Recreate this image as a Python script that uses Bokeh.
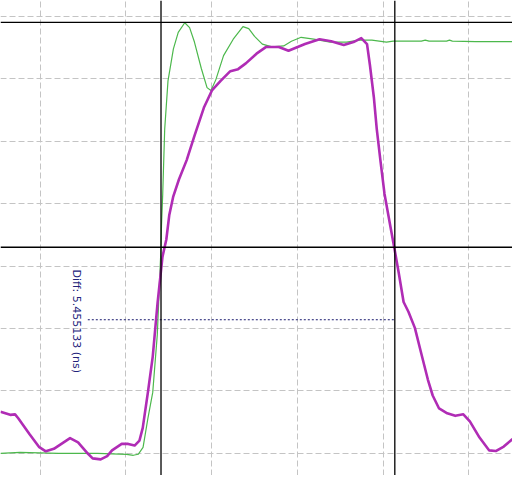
from bokeh.plotting import figure
from bokeh.models import Span, FixedTicker
from bokeh.core.properties import value
from bokeh.embed import file_html
from bokeh.resources import INLINE
import math

# time in ns, voltage in V
green_t = [-0.928, -0.475, 0.430, 1.335, 2.014, 2.172, 2.285, 2.398, 2.511, 2.624, 2.731,
           2.817, 2.828, 2.857, 2.903, 2.980, 3.106, 3.219, 3.371, 3.484, 3.597, 3.756,
           3.891, 3.982, 4.095, 4.276, 4.502, 4.729, 4.864, 5.000, 5.181, 5.407, 5.679, 5.860,
           6.086, 6.380, 6.765, 7.149, 7.443, 7.738, 8.077, 8.235, 8.575, 8.891, 8.982, 9.072,
           9.480, 9.548, 9.615, 10.158, 11.018]
green_v = [0.000, 0.008, 0.000, 0.000, -0.008, -0.016, -0.008, 0.047, 0.279, 0.488, 0.953,
           1.651, 1.822, 2.078, 2.597, 2.984, 3.240, 3.372, 3.450, 3.411, 3.295, 3.085,
           2.930, 2.907, 2.992, 3.186, 3.318, 3.419, 3.403, 3.341, 3.279, 3.256, 3.264, 3.302,
           3.333, 3.318, 3.295, 3.295, 3.310, 3.310, 3.295, 3.302, 3.302, 3.302, 3.310, 3.302,
           3.302, 3.310, 3.302, 3.298, 3.298]

mag_t = [-0.928, -0.701, -0.588, -0.514, -0.249, -0.023, 0.129, 0.317, 0.695, 0.882, 1.109,
         1.222, 1.410, 1.561, 1.674, 1.900, 2.052, 2.201, 2.314, 2.391, 2.511, 2.624, 2.738,
         2.851, 2.941, 3.009, 3.100, 3.235, 3.416, 3.597, 3.824, 4.005, 4.208, 4.434, 4.615,
         4.796, 5.045, 5.271, 5.566, 5.792, 6.176, 6.516, 6.787, 7.081, 7.308, 7.489, 7.624,
         7.692, 7.783, 7.851, 7.941, 8.032, 8.167, 8.258, 8.364, 8.477, 8.590, 8.740, 8.891,
         9.043, 9.156, 9.305, 9.495, 9.683, 9.871, 10.023, 10.249, 10.475, 10.627, 10.814,
         11.018]
mag_v = [0.333, 0.308, 0.312, 0.281, 0.153, 0.049, 0.016, 0.036, 0.122, 0.088, -0.002,
         -0.041, -0.049, -0.023, 0.023, 0.075, 0.075, 0.062, 0.101, 0.204, 0.488, 0.775, 1.209,
         1.574, 1.713, 1.907, 2.054, 2.194, 2.349, 2.543, 2.775, 2.907, 2.984, 3.062, 3.078,
         3.124, 3.202, 3.256, 3.256, 3.225, 3.279, 3.318, 3.302, 3.271, 3.295, 3.326, 3.279,
         3.109, 2.853, 2.597, 2.333, 2.078, 1.822, 1.651, 1.444, 1.212, 1.134, 1.005, 0.798,
         0.591, 0.463, 0.359, 0.320, 0.300, 0.312, 0.256, 0.126, 0.023, 0.018, 0.054,
         0.114]

cursor_t1 = 2.817
diff_ns = 5.455133
cursor_t2 = cursor_t1 + diff_ns
cursor_v_mid = 1.651
cursor_v_top = 3.453
diff_line_v = 1.070
diff_line_start = 1.109
diff_label = "Diff: 5.455133 (ns)"
label_t = 0.837
label_v = 1.473

x_ticks = [0, 2, 4, 6, 8, 10]
y_ticks = [0.0, 0.5, 1.0, 1.5, 2.0, 2.5, 3.0, 3.5]

p = figure(width=512, height=475, x_range=(-0.928, 11.018), y_range=(-0.178, 3.628),
           min_border=0, toolbar_location=None, output_backend="svg")
p.outline_line_color = None
p.xaxis.ticker = FixedTicker(ticks=x_ticks)
p.yaxis.ticker = FixedTicker(ticks=y_ticks)
p.xaxis.visible = False
p.yaxis.visible = False
p.grid.grid_line_color = "#c4c4c4"
p.grid.grid_line_dash = "6 3"
p.grid.grid_line_width = 1

p.add_layout(Span(location=cursor_t1, dimension="height", line_color="black", line_width=1.3))
p.add_layout(Span(location=cursor_t2, dimension="height", line_color="black", line_width=1.3))
p.add_layout(Span(location=cursor_v_mid, dimension="width", line_color="black", line_width=1.3))
p.add_layout(Span(location=cursor_v_top, dimension="width", line_color="black", line_width=1.3))

p.line([diff_line_start, cursor_t2], [diff_line_v, diff_line_v], line_color="#1a1a6e",
       line_width=1, line_dash="2 2")

p.line(green_t, green_v, line_color="#4cb84c", line_width=1.2)
p.line(mag_t, mag_v, line_color="#b02cb5", line_width=2.6, line_join="round")

p.text([label_t], [label_v], text=[diff_label], angle=-math.pi / 2,
       text_align="left", text_baseline="middle", text_color="#22227a",
       text_font=value("DejaVu Sans"), text_font_size="11px")

open("out.html", "w").write(file_html(p, INLINE))
